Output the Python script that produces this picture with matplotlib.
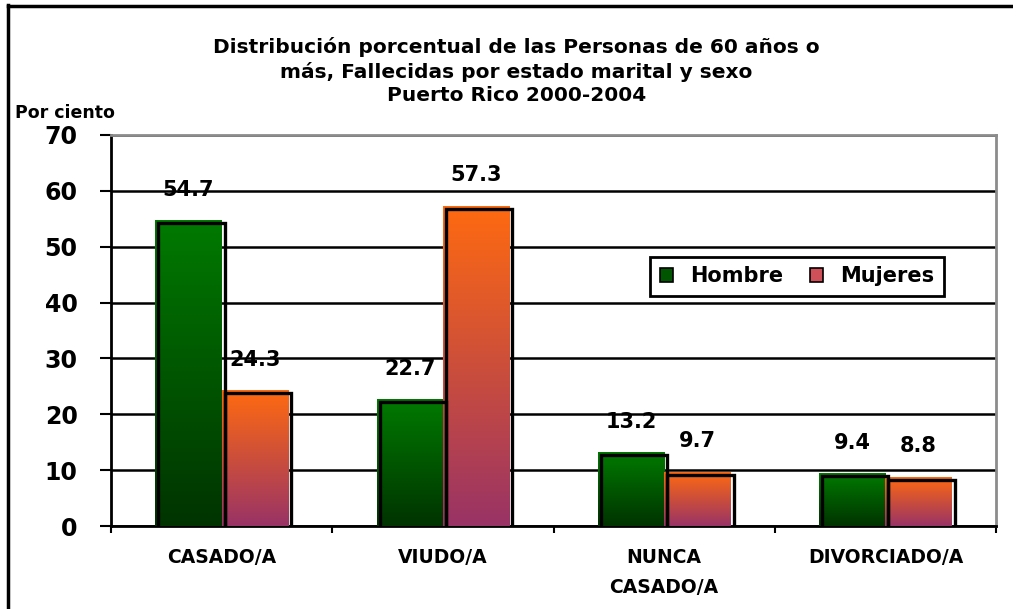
import matplotlib
matplotlib.use("Agg")
import matplotlib.pyplot as plt
import numpy as np
from matplotlib.transforms import ScaledTranslation
from matplotlib.colors import LinearSegmentedColormap
from matplotlib.lines import Line2D
from matplotlib.patches import Patch

categories = ["CASADO/A", "VIUDO/A", "NUNCA\nCASADO/A", "DIVORCIADO/A"]
hombre = [54.7, 22.7, 13.2, 9.4]
mujeres = [24.3, 57.3, 9.7, 8.8]
series_names = ["Hombre", "Mujeres"]
yticks = [0, 10, 20, 30, 40, 50, 60, 70]
title = ("Distribución porcentual de las Personas de 60 años o\n"
         "más, Fallecidas por estado marital y sexo\n"
         "Puerto Rico 2000-2004")
ylabel = "Por ciento"

plt.rcParams['font.family'] = ['DejaVu Sans']
plt.rcParams['font.weight'] = 'bold'

fig = plt.figure(figsize=(10.13, 6.09), dpi=100)
ax = fig.add_axes([111/1013, 1-526/609, 885/1013, 391/609])

x = np.arange(len(categories))
w = 0.3
green_cm = LinearSegmentedColormap.from_list("g", ["#003300", "#007A00"])
orange_cm = LinearSegmentedColormap.from_list("o", ["#993366", "#FF6A10"])
grad = np.linspace(0, 1, 256).reshape(-1, 1)

offset = ScaledTranslation(3/100, -3/100, fig.dpi_scale_trans)
for vals, dx, cm in [(hombre, -w/2, green_cm), (mujeres, w/2, orange_cm)]:
    bars = ax.bar(x + dx, vals, w, facecolor='none', edgecolor='none', zorder=3)
    for b, v in zip(bars, vals):
        x0 = b.get_x()
        im = ax.imshow(grad, cmap=cm, aspect='auto', origin='lower',
                       extent=[x0, x0 + w, 0, v], zorder=3)
        im.set_clip_path(b)
    ob = ax.bar(x + dx, vals, w, facecolor='none', edgecolor='black',
                linewidth=2.4, zorder=4)
    for p in ob:
        p.set_transform(ax.transData + offset)
    for xi, v in zip(x + dx, vals):
        ax.annotate(f"{v:.1f}", (xi, v), xytext=(0, 22), textcoords='offset points',
                    ha='center', va='center', fontsize=15, fontweight='bold')

ax.set_xlim(-0.5, 3.5)
ax.set_ylim(0, 70)
ax.set_yticks(yticks)
ax.set_yticklabels([str(t) for t in yticks], fontsize=17, fontweight='bold')
ax.tick_params(axis='y', length=8, width=1.5, pad=16, direction='out')
ax.set_xticks(x)
ax.set_xticklabels(categories, fontsize=13.5, fontweight='bold', linespacing=1.75)
ax.tick_params(axis='x', which='major', length=0, pad=16)
ax.set_xticks(np.arange(-0.5, 4, 1), minor=True)
ax.tick_params(axis='x', which='minor', length=5, width=1.5, direction='out')

ax.yaxis.grid(True, color='black', linewidth=1.8)
ax.set_axisbelow(True)
for s in ['left', 'bottom']:
    ax.spines[s].set_linewidth(2)
    ax.spines[s].set_color('black')
for s in ['top', 'right']:
    ax.spines[s].set_linewidth(2)
    ax.spines[s].set_color('#8C8C8C')

handles = [Patch(facecolor='#005500', edgecolor='black', linewidth=1.2),
           Patch(facecolor='#D0505A', edgecolor='black', linewidth=1.2)]
leg = ax.legend(handles, series_names, loc='center', bbox_to_anchor=(0.775, 0.639),
                fancybox=False, framealpha=1, edgecolor='black',
                prop={'size': 15, 'weight': 'bold'}, ncol=2,
                handlelength=0.65, handleheight=0.65, handletextpad=0.8,
                columnspacing=1.3, borderpad=0.45, borderaxespad=0)
leg.get_frame().set_linewidth(2)

fig.text(0.51, 1-71/609, title, ha='center', va='center', fontsize=14.5,
         fontweight='bold', linespacing=1.3)
fig.text(15/1013, 1-113/609, ylabel, ha='left', va='center', fontsize=12.5,
         fontweight='bold')

fig.add_artist(Line2D([8/1013, 8/1013], [0, 1-5/609], color='black', linewidth=2.5,
                      transform=fig.transFigure))
fig.add_artist(Line2D([8/1013, 1], [1-6/609, 1-6/609], color='black', linewidth=2.5,
                      transform=fig.transFigure))

fig.savefig("out.png", dpi=100)
